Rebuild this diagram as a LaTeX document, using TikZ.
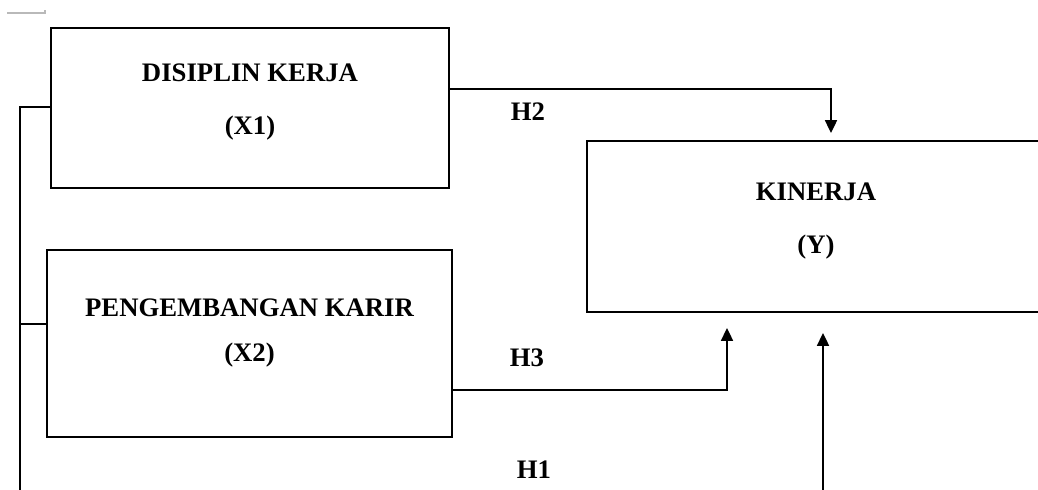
\documentclass[tikz,border=0pt]{standalone}
\usepackage{fontspec}
\setmainfont{Liberation Serif}
\usepackage{tikz}
\usetikzlibrary{arrows.meta, positioning, calc}

\begin{document}
\begin{tikzpicture}[x=0.025cm,y=-0.025cm]
\tikzset{
  vb/.style={rectangle,draw=black,line width=1.2pt,inner sep=0pt},
  tx/.style={font=\fontsize{19}{23}\selectfont\bfseries,inner sep=0pt},
  ln/.style={line width=1.2pt,draw=black},
  ar/.style={-{Triangle[length=3.2mm,width=3mm]},line width=1.2pt,draw=black}
}
\useasboundingbox (0,0) rectangle (1038,489);
\clip (0,0) rectangle (1038,489);
\draw[gray!55,line width=0.8pt] (7,13) -- (45,13) -- (45,10);
% variables
\node[vb,minimum width=9.95cm,minimum height=4cm] (x1) at (250,108) {};
\node[vb,minimum width=10.125cm,minimum height=4.675cm] (x2) at (249.5,343.5) {};
\node[vb,minimum width=11.45cm,minimum height=4.275cm] (y) at (816,226.5) {};
\node[tx] (x1a) at (250,73) {DISIPLIN KERJA};
\node[tx] (x1b) at (250,128) {(X1)};
\node[tx] (x2a) at (249.5,308) {PENGEMBANGAN KARIR};
\node[tx] (x2b) at (249.5,355) {(X2)};
\node[tx] (ya) at (816,192) {KINERJA};
\node[tx] (yb) at (816,247) {(Y)};
% hypotheses
\node[tx] (h2) at (528,112) {H2};
\node[tx] (h3) at (527,358) {H3};
\node[tx] (h1) at (534,470) {H1};
\coordinate (bt) at (20,107);
\coordinate (b2) at (20,324);
\coordinate (bb) at (20,520);
\coordinate (h1e) at (823,333);
\coordinate (h2s) at (449,89);
\coordinate (h2e) at (831,133);
\coordinate (h3s) at (452,390);
\coordinate (h3e) at (727,328);
\draw[ln] (bt -| x1.west) -- (bt) -- (bb);
\draw[ln] (b2) -- (b2 -| x2.west);
\draw[ar] (bb) -| (h1e);
\draw[ar] (h2s) -| (h2e);
\draw[ar] (h3s) -| (h3e);
\end{tikzpicture}
\end{document}
